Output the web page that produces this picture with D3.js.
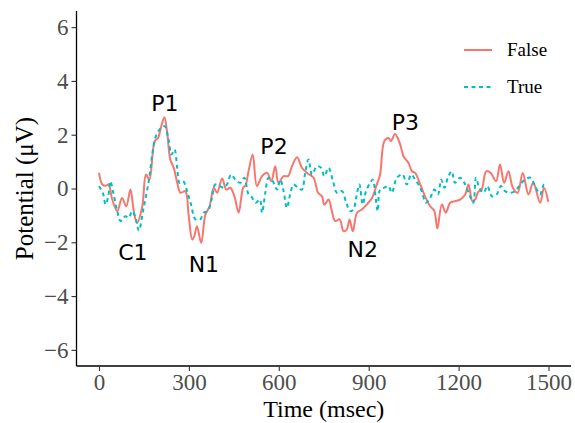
<!DOCTYPE html>
<html lang="en">
<head>
    <meta charset="UTF-8">
    <title>ERP waveform</title>
    <script src="https://d3js.org/d3.v7.min.js"></script>
    <style>
        body { margin: 0; padding: 0; background: #fff; }
        svg { display: block; }
    </style>
</head>
<body>
    <svg id="chart"></svg>
    <script>
        const width = 575, height = 423;

        // "False" condition (solid red)
        const falseTime = [0, 11, 22, 32, 44, 61, 77, 91, 105, 116, 127, 144, 157, 168, 186, 197, 205, 218, 227, 238, 250,
            261, 272, 288, 299, 311, 318, 327, 341, 355, 369, 383, 394, 411, 425, 438, 452, 466, 481, 489, 499, 513,
            527, 544, 561, 575, 588, 599, 616, 631, 644, 661, 677, 694, 716, 731, 744, 752, 766, 777, 788, 803, 816,
            827, 836, 847, 861, 877, 894, 911, 927, 938, 952, 966, 974, 988, 1005, 1016, 1033, 1044, 1055, 1072, 1088,
            1105, 1119, 1129, 1144, 1157, 1172, 1188, 1205, 1222, 1233, 1246, 1255, 1266, 1277, 1292, 1307, 1325, 1338,
            1352, 1366, 1381, 1397, 1414, 1433, 1449, 1472, 1485, 1499];
        const falseValue = [0.58, 0.15, 0.1, 0.15, -0.4, -0.84, -0.35, -0.66, -0.04, -0.84, -1.28, -0.7, 0.52, 0.33, 1.76, 1.88, 2.19, 2.65, 2.13, 1.08, 0.75,
            0.21, -0.16, -0.1, -0.97, -1.9, -1.77, -1.4, -2.02, -0.97, -0.66, 0.03, -0.16, 0.37, -0.04, 0.03, -0.29, -0.9, 0.03, 0.12, 0.64, 1.26,
            0.09, 0.46, 0.58, 0.27, 0.83, 0.21, 0.46, 0.46, 0.83, 1.16, 0.77, 0.58, 0.4, -0.16, -0.29, -0.6, -0.41, -0.84, -1.21, -1.15, -1.59,
            -1.52, -1.15, -1.59, -0.9, -0.78, -0.59, -0.35, 0.15, 0.52, 1.76, 1.88, 1.76, 2.03, 1.64, 1.2, 0.95, 0.64, 0.58, 0.15, -0.29,
            -0.66, -0.84, -1.49, -0.59, -0.9, -0.53, -0.47, -0.41, -0.22, 0.15, -0.47, -0.41, -0.12, -0.04, 0.64, 0.58, 0.27, 0.89,
            0.21, 0.64, 0.03, -0.16, 0.58, -0.22, 0.21, -0.53, 0.03, -0.49];

        // "True" condition (dashed cyan)
        const trueTime = [0, 13, 22, 31, 38, 49, 61, 72, 88, 99, 111, 122, 133, 149, 166, 177, 188, 202, 219, 231, 242, 252,
            261, 269, 281, 294, 307, 322, 338, 349, 363, 377, 388, 403, 416, 427, 441, 455, 472, 485, 499, 508, 523,
            537, 544, 555, 566, 580, 594, 605, 616, 627, 638, 649, 664, 677, 688, 699, 711, 727, 741, 752, 766, 781,
            794, 811, 825, 838, 849, 858, 869, 880, 891, 905, 914, 922, 930, 938, 952, 966, 977, 994, 1013, 1027,
            1042, 1055, 1066, 1077, 1091, 1105, 1119, 1131, 1142, 1153, 1164, 1177, 1188, 1205, 1222, 1238, 1249,
            1258, 1269, 1283, 1296, 1311, 1327, 1341, 1355, 1372, 1388, 1402, 1421, 1440, 1455, 1472, 1485, 1496];
        const trueValue = [0.09, -0.16, -0.59, -0.29, 0.27, -0.22, -0.84, -1.21, -1.03, -1.09, -0.84, -1.09, -1.56, -0.72, 0.27, 1.2, 1.88, 2.19, 2.32, 1.88, 1.26, 1.45,
            0.77, 0.21, 0.27, -0.1, -0.59, -1.15, -1.15, -0.9, -0.84, -0.35, 0.15, 0.09, 0.03, 0.15, 0.52, 0.33, 0.21, 0.4, -0.22, -0.29, -0.53,
            -0.41, -0.9, -0.16, 0.4, 0.27, -0.04, 0.33, -0.1, -0.72, -0.22, 0.15, 0.03, -0.04, 0.58, 1.08, 0.52, 0.83, 0.77, 0.46, 0.77, 0.27,
            -0.16, -0.1, -0.53, -0.84, -0.78, -0.35, 0.15, -0.59, -0.1, 0.21, 0.33, -0.22, -0.84, -0.04, 0.03, 0.09, -0.16, 0.4, 0.52, 0.15,
            0.52, 0.33, 0.15, -0.1, -0.53, -0.35, -0.04, -0.22, 0.33, 0.03, 0.4, 0.64, 0.21, 0.4, 0.15, -0.29, -0.53,
            0.4, 0.03, -0.16, 0.09, -0.29, -0.22, 0.09, -0.1, -0.16, -0.1, 0.09, 0.33, 0.4, 0.09, -0.22, 0.15, 0.09];

        const xTicks = [0, 300, 600, 900, 1200, 1500];
        const yTicks = [-6, -4, -2, 0, 2, 4, 6];

        const componentLabels = ["P1", "C1", "N1", "P2", "N2", "P3"];
        const componentTime = [220, 113, 350, 584, 880, 1022];
        const componentValue = [2.88, -2.65, -3.1, 1.28, -2.55, 2.18];

        const legendNames = ["False", "True"];
        const colors = ["#F8766D", "#00BFC4"];

        const svg = d3.select("#chart")
            .attr("width", width)
            .attr("height", height);

        const panel = { left: 76.5, right: 571, top: 11, bottom: 366 };

        const x = d3.scaleLinear().domain([-75, 1575]).range([panel.left, panel.right]);
        const y = d3.scaleLinear().domain([-6.6, 6.6]).range([panel.bottom, panel.top]);

        const serif = "'Liberation Serif', 'Times New Roman', serif";

        // axes
        const xAxis = svg.append("g")
            .attr("transform", `translate(0,${panel.bottom})`)
            .call(d3.axisBottom(x).tickValues(xTicks).tickSize(5).tickPadding(3)
                .tickFormat(d => String(d)));
        const yAxis = svg.append("g")
            .attr("transform", `translate(${panel.left},0)`)
            .call(d3.axisLeft(y).tickValues(yTicks).tickSize(5).tickPadding(3)
                .tickFormat(d => d < 0 ? "\u2212" + Math.abs(d) : String(d)));

        [xAxis, yAxis].forEach(g => {
            g.select(".domain").attr("stroke", "#000").attr("stroke-width", 1.3);
            g.selectAll(".tick line").attr("stroke", "#333").attr("stroke-width", 1.1);
            g.selectAll(".tick text")
                .attr("fill", "#4d4d4d")
                .style("font-family", serif)
                .style("font-size", "23px");
        });
        xAxis.select(".domain").attr("d", `M${panel.left},0H${panel.right}`);
        yAxis.select(".domain").attr("d", `M0,${panel.bottom}V${panel.top}`);

        svg.append("text")
            .attr("x", (panel.left + panel.right) / 2)
            .attr("y", 417)
            .attr("text-anchor", "middle")
            .style("font-family", serif)
            .style("font-size", "24px")
            .text("Time (msec)");

        svg.append("text")
            .attr("transform", "rotate(-90)")
            .attr("x", -(panel.top + panel.bottom) / 2)
            .attr("y", 33)
            .attr("text-anchor", "middle")
            .style("font-family", serif)
            .style("font-size", "25px")
            .text("Potential (\u03bcV)");

        // waveforms
        const line = d3.line()
            .x(d => x(d[0]))
            .y(d => y(d[1]))
            .curve(d3.curveCatmullRom.alpha(0.5));

        const falseData = falseTime.map((t, i) => [t, falseValue[i]]);
        const trueData = trueTime.map((t, i) => [t, trueValue[i]]);

        svg.append("path")
            .datum(falseData)
            .attr("d", line)
            .attr("fill", "none")
            .attr("stroke", colors[0])
            .attr("stroke-width", 2);

        svg.append("path")
            .datum(trueData)
            .attr("d", line)
            .attr("fill", "none")
            .attr("stroke", colors[1])
            .attr("stroke-width", 2)
            .attr("stroke-dasharray", "4,3.5");

        // component annotations
        svg.selectAll(".comp")
            .data(componentLabels)
            .enter().append("text")
            .attr("class", "comp")
            .attr("x", (d, i) => x(componentTime[i]))
            .attr("y", (d, i) => y(componentValue[i]))
            .attr("text-anchor", "middle")
            .style("font-family", "'DejaVu Sans', sans-serif")
            .style("font-size", "22px")
            .text(d => d);

        // legend
        const legend = svg.append("g");
        legendNames.forEach((name, i) => {
            const ly = 50 + i * 37;
            legend.append("line")
                .attr("x1", 464).attr("x2", 492)
                .attr("y1", ly).attr("y2", ly)
                .attr("stroke", colors[i])
                .attr("stroke-width", 2)
                .attr("stroke-dasharray", i === 1 ? "4,3.5" : null);
            legend.append("text")
                .attr("x", 507)
                .attr("y", ly + 6)
                .style("font-family", serif)
                .style("font-size", "19px")
                .text(name);
        });
    </script>
</body>
</html>
